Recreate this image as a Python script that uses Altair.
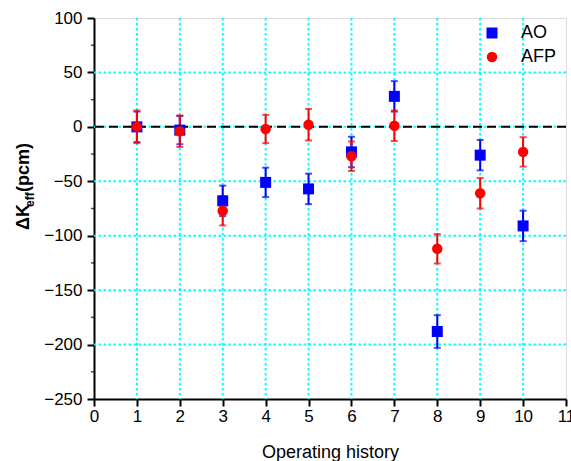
import altair as alt
import pandas as pd

# ---- data ----
history = [1, 2, 3, 4, 5, 6, 7, 8, 9, 10]
ao_vals = [0, -3, -68, -51, -57, -23, 28, -188, -26, -91]
ao_err = [14, 13, 14, 13.5, 14, 14, 14, 15, 14, 14]
afp_vals = [0, -4, -77, -2, 2, -27, 1, -112, -61, -23]
afp_err = [15, 14.5, 13.5, 13, 14.5, 13.5, 14, 13.5, 14, 13.5]
series_names = ["AO", "AFP"]
series_colors = ["#0000FF", "#FF0000"]
series_shapes = ["square", "circle"]

x_ticks = list(range(0, 12))
y_ticks = [-250, -200, -150, -100, -50, 0, 50, 100]
y_minor = [-225, -175, -125, -75, -25, 25, 75]
x_grid = list(range(1, 11))
y_grid = [-200, -150, -100, -50, 0, 50]
zero_line = [0]

FONT = "Liberation Sans"

rows = []
for name, vals, errs in [("AO", ao_vals, ao_err), ("AFP", afp_vals, afp_err)]:
    for h, v, e in zip(history, vals, errs):
        rows.append({"history": h, "value": v, "lo": v - e, "hi": v + e, "series": name})
df = pd.DataFrame(rows)

xscale = alt.Scale(domain=[0, 11], nice=False, zero=False)
yscale = alt.Scale(domain=[-250, 100], nice=False, zero=False)

xaxis = alt.Axis(values=x_ticks, tickSize=7, tickWidth=2, tickColor="black",
                 domainColor="black", domainWidth=2, labelFontSize=17, labelFont=FONT,
                 labelColor="black", labelPadding=2, grid=False, labelFlush=False,
                 title="Operating history", titleFont=FONT, titleFontSize=18,
                 titleFontWeight="normal", titleColor="black", titlePadding=19)
yaxis = alt.Axis(values=y_ticks, tickSize=7, tickWidth=2, tickColor="black",
                 domainColor="black", domainWidth=2, labelFontSize=17, labelFont=FONT,
                 labelColor="black", labelPadding=5, grid=False, labelFlush=False)

vgrid = alt.Chart(pd.DataFrame({"g": x_grid})).mark_rule(
    color="#00FFFF", strokeWidth=2, strokeDash=[2.5, 2.5]
).encode(x=alt.X("g:Q", scale=xscale, axis=xaxis))

hgrid = alt.Chart(pd.DataFrame({"g": y_grid})).mark_rule(
    color="#00FFFF", strokeWidth=2, strokeDash=[2.5, 2.5]
).encode(y=alt.Y("g:Q", scale=yscale, axis=yaxis, title=None))

zero = alt.Chart(pd.DataFrame({"z": zero_line})).mark_rule(
    color="black", strokeWidth=2, strokeDash=[9, 5]
).encode(y=alt.Y("z:Q", scale=yscale))

minor = alt.Chart(pd.DataFrame({"m": y_minor})).mark_tick(
    orient="horizontal", color="black", size=3, thickness=1.5
).encode(y=alt.Y("m:Q", scale=yscale), x=alt.value(-1.5))

layers = [vgrid, hgrid, zero, minor]
for name, col in zip(series_names, series_colors):
    sub = df[df.series == name]
    err = alt.Chart(sub).mark_rule(color=col, strokeWidth=2).encode(
        x=alt.X("history:Q", scale=xscale),
        y=alt.Y("lo:Q", scale=yscale),
        y2="hi:Q",
    )
    cap_lo = alt.Chart(sub).mark_tick(orient="horizontal", color=col, size=7, thickness=2).encode(
        x=alt.X("history:Q", scale=xscale), y=alt.Y("lo:Q", scale=yscale))
    cap_hi = alt.Chart(sub).mark_tick(orient="horizontal", color=col, size=7, thickness=2).encode(
        x=alt.X("history:Q", scale=xscale), y=alt.Y("hi:Q", scale=yscale))
    layers += [err, cap_lo, cap_hi]

legend = alt.Legend(title=None, orient="none", legendX=389, legendY=6, padding=0,
                    labelFont=FONT, labelFontSize=18, labelColor="black",
                    labelOffset=20, rowPadding=6, symbolOpacity=1, symbolStrokeWidth=0)

points = alt.Chart(df).mark_point(filled=True, opacity=1, strokeWidth=0).encode(
    x=alt.X("history:Q", scale=xscale),
    y=alt.Y("value:Q", scale=yscale),
    color=alt.Color("series:N", scale=alt.Scale(domain=series_names, range=series_colors), legend=legend),
    shape=alt.Shape("series:N", scale=alt.Scale(domain=series_names, range=series_shapes), legend=legend),
    size=alt.Size("series:N", scale=alt.Scale(domain=series_names, range=[121, 110]), legend=legend),
    order=alt.Order("series:N", sort="descending"),
)
layers.append(points)

# y-axis title with subscript
t1 = alt.Chart(pd.DataFrame({"t": ["\u0394K"]})).mark_text(
    angle=270, align="left", baseline="alphabetic", font=FONT, fontSize=18,
    fontWeight="bold", color="black"
).encode(text="t:N", x=alt.value(-65.5), y=alt.value(212))
t2 = alt.Chart(pd.DataFrame({"t": ["eff"]})).mark_text(
    angle=270, align="left", baseline="alphabetic", font=FONT, fontSize=12,
    fontWeight="bold", color="black"
).encode(text="t:N", x=alt.value(-60.5), y=alt.value(189))
t3 = alt.Chart(pd.DataFrame({"t": ["(pcm)"]})).mark_text(
    angle=270, align="left", baseline="alphabetic", font=FONT, fontSize=18,
    fontWeight="bold", color="black"
).encode(text="t:N", x=alt.value(-65.5), y=alt.value(174))
layers += [t1, t2, t3]

chart = alt.layer(*layers).properties(
    width=472, height=381,
    autosize=alt.AutoSizeParams(type="none"),
    padding={"left": 94, "top": 18, "right": 5, "bottom": 62},
).configure_view(stroke=None).configure(background="white")

chart.save("out.html", embed_options={"renderer": "svg", "actions": False})
